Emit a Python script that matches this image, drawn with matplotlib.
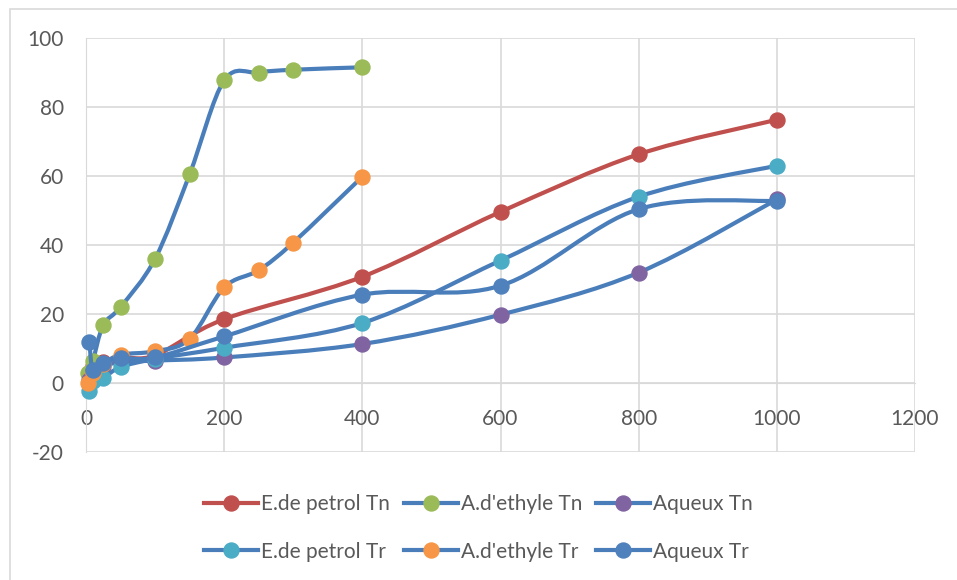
import numpy as np
import matplotlib
matplotlib.use("Agg")
import matplotlib.pyplot as plt
from matplotlib.path import Path
from matplotlib.patches import PathPatch, Rectangle
from matplotlib.lines import Line2D

plt.rcParams['font.family'] = ['Lato', 'DejaVu Sans']
plt.rcParams['axes.unicode_minus'] = False

# ---- data ----
x_tn = [5, 10, 25, 50, 100, 200, 400, 600, 800, 1000]
x_ad = [3, 10, 25, 50, 100, 150, 200, 250, 300, 400]

ep_tn = [3, 5, 6, 7.5, 8, 18.5, 30.8, 49.6, 66.3, 76.3]
ad_tn = [3, 6.5, 16.8, 22, 36, 60.5, 87.7, 90, 90.8, 91.5]
aq_tn = [1, 3.5, 5, 6, 6.5, 7.4, 11.3, 19.8, 32, 53.2]
ep_tr = [-2.3, 0.5, 1.5, 4.6, 7, 10.2, 17.4, 35.5, 54, 63]
ad_tr = [0, 3, 5.5, 8.2, 9.2, 12.8, 27.7, 32.7, 40.7, 59.8]
aq_tr = [11.8, 3.8, 5.8, 7.2, 7.4, 13.5, 25.6, 28.2, 50.4, 52.8]

labels = ["E.de petrol Tn", "A.d'ethyle Tn", "Aqueux Tn",
          "E.de petrol Tr", "A.d'ethyle Tr", "Aqueux Tr"]
series = [(x_tn, ep_tn), (x_ad, ad_tn), (x_tn, aq_tn),
          (x_tn, ep_tr), (x_ad, ad_tr), (x_tn, aq_tr)]
line_colors = ['#C0504D', '#4A7EBB', '#4A7EBB', '#4A7EBB', '#4A7EBB', '#4A7EBB']
marker_colors = ['#C0504D', '#9BBB59', '#8064A2', '#4BACC6', '#F79646', '#4F81BD']

x_ticks = [0, 200, 400, 600, 800, 1000, 1200]
y_ticks = [-20, 0, 20, 40, 60, 80, 100]


def smooth_path(x, y):
    p = np.column_stack([x, y]).astype(float)
    n = len(p)
    verts = [p[0]]
    codes = [Path.MOVETO]
    for i in range(n - 1):
        p0 = p[i - 1] if i > 0 else p[i]
        p1 = p[i]
        p2 = p[i + 1]
        p3 = p[i + 2] if i + 2 < n else p[i + 1]
        c1 = p1 + (p2 - p0) / 6.0
        c2 = p2 - (p3 - p1) / 6.0
        verts += [c1, c2, p2]
        codes += [Path.CURVE4] * 3
    return Path(verts, codes)


fig = plt.figure(figsize=(9.57, 5.8), dpi=100)
ax = fig.add_axes([86 / 957, 1 - 452 / 580, (915 - 86) / 957, (452 - 38) / 580])

ax.set_xlim(0, 1200)
ax.set_ylim(-20, 100)
ax.set_xticks(x_ticks)
ax.set_yticks(y_ticks)
ax.grid(True, color='#D9D9D9', linewidth=1.2)
ax.set_axisbelow(True)
for s in ['top', 'right']:
    ax.spines[s].set_visible(False)
ax.spines['left'].set_color('#D9D9D9')
ax.spines['bottom'].set_color('#D9D9D9')
ax.spines['bottom'].set_position(('data', 0))
ax.tick_params(length=0, labelsize=15, labelcolor='#595959')
ax.tick_params(axis='y', pad=16)
ax.tick_params(axis='x', pad=19)

handles = []
for (xs, ys), lc, mc, lab in zip(series, line_colors, marker_colors, labels):
    patch = PathPatch(smooth_path(xs, ys), facecolor='none', edgecolor=lc,
                      linewidth=3.0, capstyle='round', joinstyle='round', zorder=3)
    ax.add_patch(patch)
    ax.plot(xs, ys, linestyle='none', marker='o', markersize=10.8,
            markerfacecolor=mc, markeredgecolor=mc, zorder=3, clip_on=False)
    handles.append(Line2D([], [], color=lc, linewidth=3.0, marker='o',
                          markersize=10.8, markerfacecolor=mc, markeredgecolor=mc, label=lab))

order = [0, 3, 1, 4, 2, 5]
fig.legend([handles[i] for i in order], [labels[i] for i in order],
           ncol=3, loc='center', bbox_to_anchor=(0.5, 1 - 528 / 580),
           frameon=False, fontsize=15, labelcolor='#595959',
           handlelength=2.6, handletextpad=0.15, columnspacing=0.65,
           labelspacing=1.3)

fig.patches.append(Rectangle((9.5 / 957, -0.1), 1.2, 1.1 - 9.5 / 580,
                             transform=fig.transFigure, fill=False,
                             edgecolor='#D9D9D9', linewidth=1.2))

fig.savefig('out.png', dpi=100)
